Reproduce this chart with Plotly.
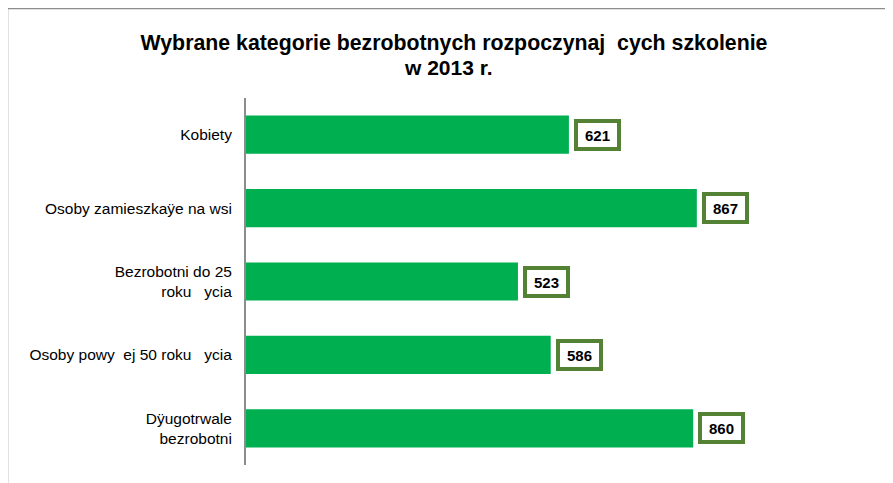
import plotly.graph_objects as go

categories = [
    "Kobiety",
    "Osoby zamieszkaÿe na wsi",
    "Bezrobotni do 25<br>roku   ycia",
    "Osoby powy  ej 50 roku   ycia",
    "Dÿugotrwale<br>bezrobotni",
]
values = [621, 867, 523, 586, 860]
title_line1 = "Wybrane kategorie bezrobotnych rozpoczynaj  cych szkolenie"
title_line2 = "w 2013 r."

# page body adds an 8px offset; figure coordinates = screen - 8
OFF = 8
W, H = 893, 483
L = 246 - OFF
R = W - (766 - OFF)
T = 98 - OFF
B = H - (465 - OFF)
pw, ph = W - L - R, H - T - B

def px_x(px):
    return (px - OFF - L) / pw

def px_y(py):
    return (H - B - (py - OFF)) / ph

fig = go.Figure()
fig.add_trace(go.Bar(
    y=categories, x=values, orientation="h",
    marker=dict(color="#00B050", line=dict(width=0)),
    width=0.52, hoverinfo="skip",
))

for c, v in zip(categories, values):
    fig.add_annotation(
        x=v, y=c, xref="x", yref="y", text="<b>%d</b>" % v,
        showarrow=False, xanchor="left", yanchor="middle", xshift=5,
        font=dict(family="Liberation Sans, Arial", size=15, color="black"),
        bgcolor="white", bordercolor="#548235", borderwidth=4, borderpad=1,
        width=37, height=22,
    )

# second title line
fig.add_annotation(
    x=px_x(448), y=px_y(68), xref="paper", yref="paper",
    text="<b>" + title_line2 + "</b>", showarrow=False,
    xanchor="center", yanchor="middle",
    font=dict(family="Liberation Sans, Arial", size=21, color="black"),
)

# outer frame lines (top and left)
fig.add_shape(type="line", xref="paper", yref="paper",
              x0=px_x(7.5), x1=px_x(W + 20), y0=px_y(8.5), y1=px_y(8.5),
              line=dict(color="#8c8c8c", width=1.5))
fig.add_shape(type="line", xref="paper", yref="paper",
              x0=px_x(7.5), x1=px_x(7.5), y0=px_y(8.5), y1=px_y(H + 20),
              line=dict(color="#8c8c8c", width=1.5))

fig.update_layout(
    width=W, height=H,
    margin=dict(l=L, r=R, t=T, b=B),
    paper_bgcolor="white", plot_bgcolor="white",
    showlegend=False,
    title=dict(text="<b>" + title_line1 + "</b>", x=(454 - OFF) / W, xref="container",
               xanchor="center",
               y=1 - (43 - OFF) / H, yref="container", yanchor="middle",
               font=dict(family="Liberation Sans, Arial", size=21.3, color="black")),
    font=dict(family="Liberation Sans, Arial", size=15.5, color="black"),
    xaxis=dict(range=[0, 1000], visible=False, showgrid=False, zeroline=False),
    yaxis=dict(autorange="reversed", showgrid=False, zeroline=False,
               showline=True, linecolor="#8c8c8c", linewidth=2,
               ticks="", ticklabelstandoff=9, automargin=False,
               tickfont=dict(family="Liberation Sans, Arial", size=15.5, color="black")),
)

fig.write_html("out.html")
